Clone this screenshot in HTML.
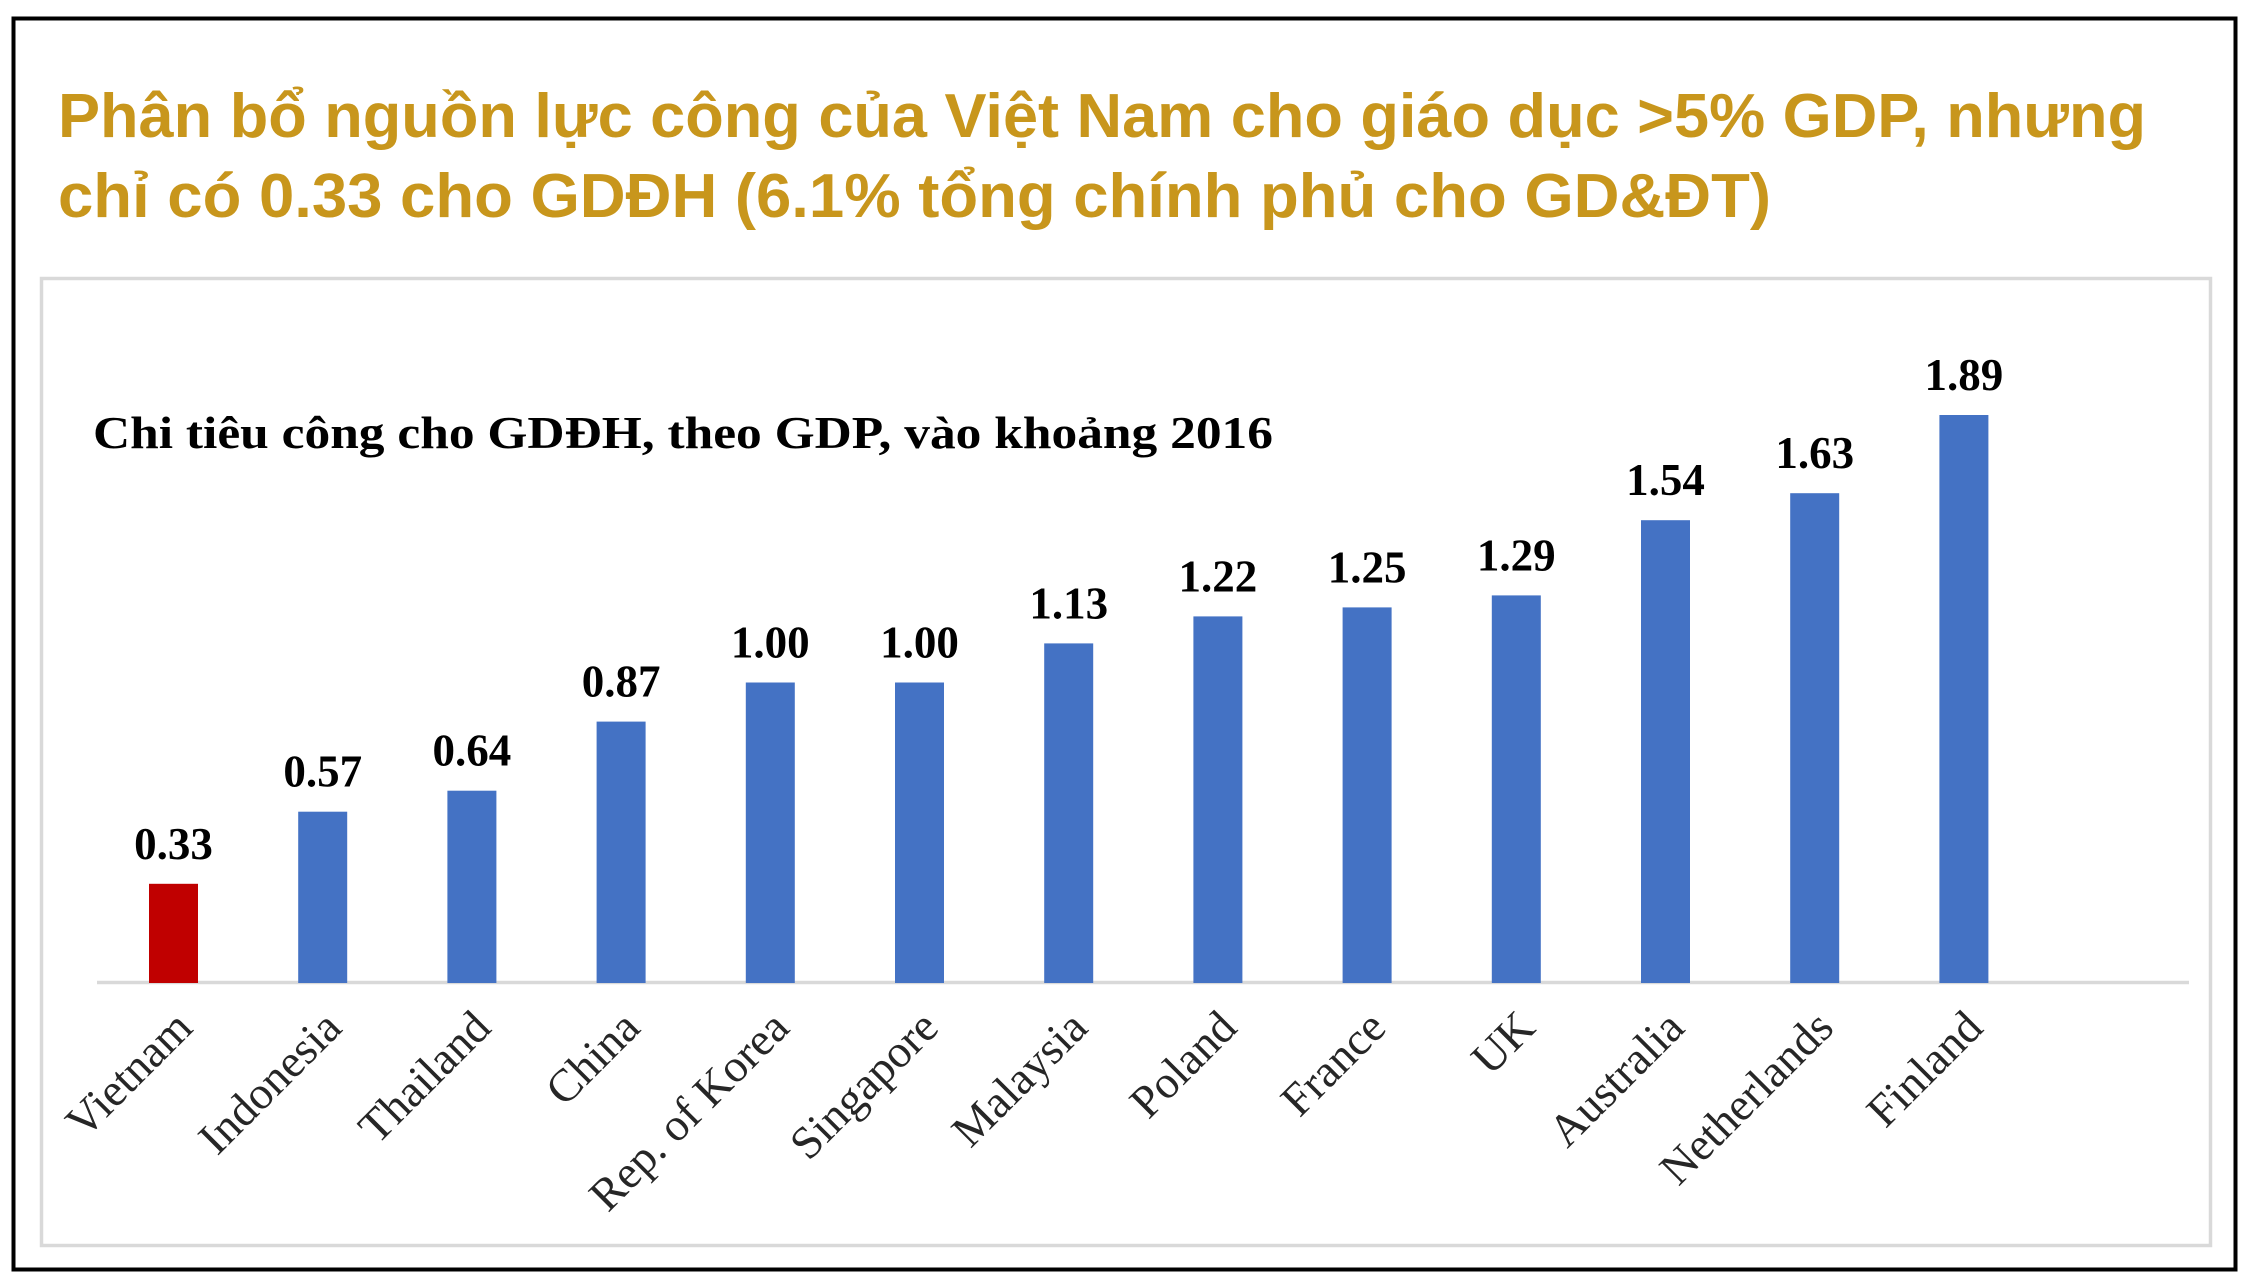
<!DOCTYPE html>
<html><head><meta charset="utf-8"><style>
html,body{margin:0;padding:0;background:#fff;}
svg{display:block;}
</style></head><body>
<svg width="2254" height="1287" viewBox="0 0 2254 1287" xmlns="http://www.w3.org/2000/svg">
<rect x="0" y="0" width="2254" height="1287" fill="#fff"/>
<rect x="13.5" y="18.5" width="2222" height="1251" fill="none" stroke="#000" stroke-width="4"/>
<rect x="41.5" y="278.5" width="2169" height="967" fill="none" stroke="#d9d9d9" stroke-width="3.5"/>
<g font-family="Liberation Sans, DejaVu Sans, sans-serif" font-weight="bold" font-size="62" fill="#c8961c">
<text x="58" y="137" textLength="2088" lengthAdjust="spacingAndGlyphs">Phân bổ nguồn lực công của Việt Nam cho giáo dục &gt;5% GDP, nhưng</text>
<text x="58" y="217" textLength="1713" lengthAdjust="spacingAndGlyphs">chỉ có 0.33 cho GDĐH (6.1% tổng chính phủ cho GD&amp;ĐT)</text>
</g>
<text x="93" y="448" font-family="Liberation Serif, serif" font-weight="bold" font-size="46" fill="#000" textLength="1180" lengthAdjust="spacingAndGlyphs">Chi tiêu công cho GDĐH, theo GDP, vào khoảng 2016</text>
<line x1="97" y1="982.5" x2="2189" y2="982.5" stroke="#d9d9d9" stroke-width="3.5"/>
<g id="bars"></g>
<g font-family="Liberation Serif, serif" font-weight="bold" font-size="45" fill="#000" text-anchor="middle">
<rect x="149" y="883.8" width="49" height="99.2" fill="#c00000"/><text x="173.5" y="858.8">0.33</text>
<rect x="298.2" y="811.7" width="49" height="171.3" fill="#4472c4"/><text x="322.7" y="786.7">0.57</text>
<rect x="447.4" y="790.7" width="49" height="192.3" fill="#4472c4"/><text x="471.9" y="765.7">0.64</text>
<rect x="596.6" y="721.6" width="49" height="261.4" fill="#4472c4"/><text x="621.1" y="696.6">0.87</text>
<rect x="745.8" y="682.5" width="49" height="300.5" fill="#4472c4"/><text x="770.3" y="657.5">1.00</text>
<rect x="895" y="682.5" width="49" height="300.5" fill="#4472c4"/><text x="919.5" y="657.5">1.00</text>
<rect x="1044.2" y="643.4" width="49" height="339.6" fill="#4472c4"/><text x="1068.7" y="618.4">1.13</text>
<rect x="1193.4" y="616.4" width="49" height="366.6" fill="#4472c4"/><text x="1217.9" y="591.4">1.22</text>
<rect x="1342.6" y="607.4" width="49" height="375.6" fill="#4472c4"/><text x="1367.1" y="582.4">1.25</text>
<rect x="1491.8" y="595.4" width="49" height="387.6" fill="#4472c4"/><text x="1516.3" y="570.4">1.29</text>
<rect x="1641" y="520.2" width="49" height="462.8" fill="#4472c4"/><text x="1665.5" y="495.2">1.54</text>
<rect x="1790.2" y="493.2" width="49" height="489.8" fill="#4472c4"/><text x="1814.7" y="468.2">1.63</text>
<rect x="1939.4" y="415" width="49" height="568" fill="#4472c4"/><text x="1963.9" y="390">1.89</text>
</g>
<g font-family="Liberation Serif, serif" font-size="46" fill="#262626" text-anchor="end">
<text transform="translate(194.5,1030) rotate(-45)">Vietnam</text>
<text transform="translate(343.7,1030) rotate(-45)">Indonesia</text>
<text transform="translate(492.9,1030) rotate(-45)">Thailand</text>
<text transform="translate(642.1,1030) rotate(-45)">China</text>
<text transform="translate(791.3,1030) rotate(-45)">Rep. of Korea</text>
<text transform="translate(940.5,1030) rotate(-45)">Singapore</text>
<text transform="translate(1089.7,1030) rotate(-45)">Malaysia</text>
<text transform="translate(1238.9,1030) rotate(-45)">Poland</text>
<text transform="translate(1388.1,1030) rotate(-45)">France</text>
<text transform="translate(1537.3,1030) rotate(-45)">UK</text>
<text transform="translate(1686.5,1030) rotate(-45)">Australia</text>
<text transform="translate(1835.7,1030) rotate(-45)">Netherlands</text>
<text transform="translate(1984.9,1030) rotate(-45)">Finland</text>
</g>
</svg>
</body></html>
